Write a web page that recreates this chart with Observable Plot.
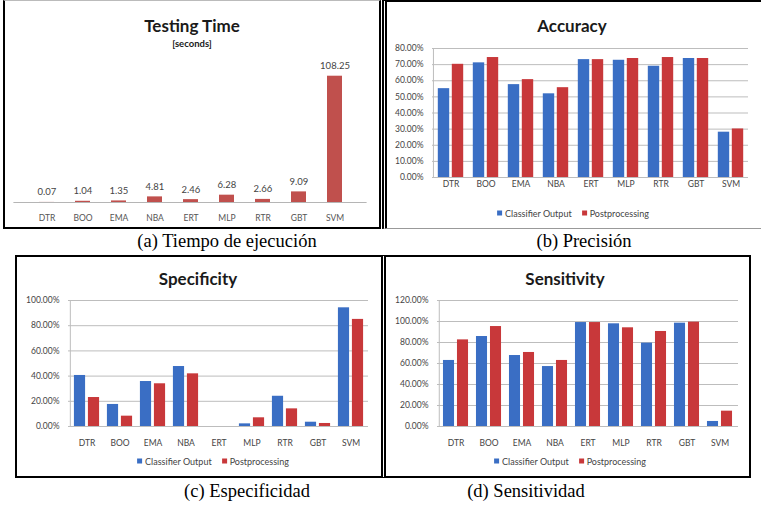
<!DOCTYPE html>
<html><head><meta charset="utf-8">
<script src="https://cdn.jsdelivr.net/npm/d3@7"></script>
<script src="https://cdn.jsdelivr.net/npm/@observablehq/plot@0.6"></script>
<style>
body{margin:0;background:#fff;}
#root{position:relative;width:761px;height:505px;overflow:hidden;font-family:Lato,"Open Sans",sans-serif;background:#fff;}
.box{position:absolute;box-sizing:border-box;}
.chart{position:absolute;}
.chart svg{display:block;overflow:visible;background:transparent;}
.title{position:absolute;font-weight:bold;color:#1a1a1a;transform:translate(-50%,-50%);white-space:nowrap;font-size:17px;}
.cap{position:absolute;font-family:"Liberation Serif","Times New Roman",serif;font-size:18.5px;color:#000;transform:translate(-50%,-50%);white-space:nowrap;}
.legend{position:absolute;transform:translate(-50%,-50%);white-space:nowrap;display:flex;align-items:center;font-size:9px;color:#444;}
.legend .sw{display:inline-block;width:5px;height:5px;margin-right:3px;}
.legend .item{display:flex;align-items:center;margin:0 5px;}
</style></head>
<body>
<div id="root"></div>
<script>
// ---- data ----
const categories = ["DTR","BOO","EMA","NBA","ERT","MLP","RTR","GBT","SVM"];
const testingTime = [0.07, 1.04, 1.35, 4.81, 2.46, 6.28, 2.66, 9.09, 108.25];
const seriesNames = ["Classifier Output", "Postprocessing"];
const accuracyClassifier = [55.1, 71.1, 57.6, 51.9, 73.1, 72.7, 69.0, 73.8, 28.1];
const accuracyPost       = [70.2, 74.4, 60.7, 55.7, 73.1, 73.8, 74.4, 73.8, 30.1];
const specificityClassifier = [40.5, 17.5, 35.7, 47.6, 0, 2.1, 24.0, 3.4, 94.2];
const specificityPost       = [23.0, 8.2, 33.9, 41.8, 0, 6.9, 14.0, 2.4, 85.0];
const sensitivityClassifier = [62.9, 85.7, 67.6, 57.1, 99.0, 97.8, 79.4, 98.4, 4.8];
const sensitivityPost       = [82.5, 95.2, 70.5, 62.9, 99.0, 94.0, 90.5, 99.4, 14.6];
const captions = ["(a) Tiempo de ejecución", "(b) Precisión", "(c) Especificidad", "(d) Sensitividad"];
const titles = ["Testing Time", "Accuracy", "Specificity", "Sensitivity"];
const subtitle = "[seconds]";

const BLUE = "#3a6ec4", RED = "#c8383a", TT_RED = "#c0504d";
const root = document.getElementById("root");

function el(cls, css, html) {
  const d = document.createElement("div");
  d.className = cls;
  Object.assign(d.style, css);
  if (html !== undefined) d.innerHTML = html;
  root.appendChild(d);
  return d;
}

// panel frames
el("box", {left:"3px", top:"0px", width:"378px", height:"229px", borderLeft:"2px solid #000", borderRight:"2px solid #000", borderBottom:"2px solid #000", borderTop:"1px solid #bbb"});
el("box", {left:"382px", top:"0px", width:"379px", height:"229px", borderLeft:"5px double #000", borderTop:"2px solid #000", borderBottom:"1px solid #999"});
el("box", {left:"15px", top:"255px", width:"368px", height:"223px", border:"2px solid #000"});
el("box", {left:"381px", top:"255px", width:"370px", height:"223px", border:"2px solid #000", borderLeft:"5px double #000"});

// captions
[[227,241],[584,241],[247,491],[526,491]].forEach(([x,y],i) => el("cap", {left:x+"px", top:y+"px"}, captions[i]));

// titles
[[192,25],[572,25],[198,278],[565,278]].forEach(([x,y],i) => el("title", {left:x+"px", top:y+"px"}, titles[i]));
el("title", {left:"192px", top:"43px", fontSize:"9.5px"}, subtitle);

function legend(x, y) {
  el("legend", {left:x+"px", top:y+"px"},
    `<span class="item"><span class="sw" style="background:${BLUE}"></span>${seriesNames[0]}</span>` +
    `<span class="item"><span class="sw" style="background:${RED}"></span>${seriesNames[1]}</span>`);
}

function place(svg, left, top) {
  const d = el("chart", {left:left+"px", top:top+"px"});
  d.appendChild(svg);
}

// (a) Testing time
{
  const data = categories.map((c,i) => ({category:c, value:testingTime[i]}));
  const svg = Plot.plot({
    width: 374, height: 226,
    marginLeft: 8.4, marginRight: 12.4, marginTop: 60, marginBottom: 26,
    style: {fontFamily: "Lato, 'Open Sans', sans-serif", fontSize: "8.5px", color: "#555", background: "transparent"},
    x: {domain: categories, padding: 0.59, tickSize: 0, tickPadding: 12, label: null},
    y: {domain: [0, 120], axis: null},
    marks: [
      Plot.barY(data, {x: "category", y: "value", fill: TT_RED}),
      Plot.ruleY([0], {stroke: "#b5b5b5"}),
      Plot.text(data, {x: "category", y: "value", text: d => d.value.toFixed(2), dy: -10, fontSize: 9.5, fill: "#444"})
    ]
  });
  place(svg, 5, 2);
}

function grouped({left, top, width, height, ml, mr, mt, mb, yMax, yStep, blue, red}) {
  const blueData = categories.map((c,i) => ({category:c, series:seriesNames[0], value:blue[i]}));
  const redData = categories.map((c,i) => ({category:c, series:seriesNames[1], value:red[i]}));
  const bw = (width - ml - mr) / categories.length;
  const barW = 11.5, gap = 2.5;
  const ticks = d3.range(0, yMax + yStep / 2, yStep);
  const svg = Plot.plot({
    width, height, marginLeft: ml, marginRight: mr, marginTop: mt, marginBottom: mb,
    style: {fontFamily: "Lato, 'Open Sans', sans-serif", fontSize: "8.5px", color: "#444", background: "transparent"},
    x: {domain: categories, padding: 0, tickSize: 0, tickPadding: top > 100 ? 13 : 3, label: null},
    y: {domain: [0, yMax], ticks, tickFormat: d => d.toFixed(2) + "%", tickSize: 0, tickPadding: 9, label: null},
    marks: [
      Plot.ruleY(ticks, {stroke: "#bdbdbd"}),
      Plot.ruleX([categories[0]], {x: d => d, y1: () => 0, y2: () => yMax, dx: -bw / 2, stroke: "#bdbdbd"}),
      Plot.barY(blueData, {x: "category", y: "value", fill: BLUE, insetLeft: bw/2 - gap/2 - barW, insetRight: bw/2 + gap/2}),
      Plot.barY(redData, {x: "category", y: "value", fill: RED, insetLeft: bw/2 + gap/2, insetRight: bw/2 - gap/2 - barW})
    ]
  });
  place(svg, left, top);
}

grouped({left:386, top:2, width:374, height:226, ml:46, mr:12, mt:46, mb:51, yMax:80, yStep:10, blue:accuracyClassifier, red:accuracyPost});
grouped({left:17, top:257, width:364, height:218, ml:51, mr:13, mt:43, mb:49, yMax:100, yStep:20, blue:specificityClassifier, red:specificityPost});
grouped({left:384, top:257, width:364, height:218, ml:53, mr:10, mt:43, mb:49, yMax:120, yStep:20, blue:sensitivityClassifier, red:sensitivityPost});

legend(573, 213);
legend(213, 461);
legend(570, 461);
</script>
</body></html>
